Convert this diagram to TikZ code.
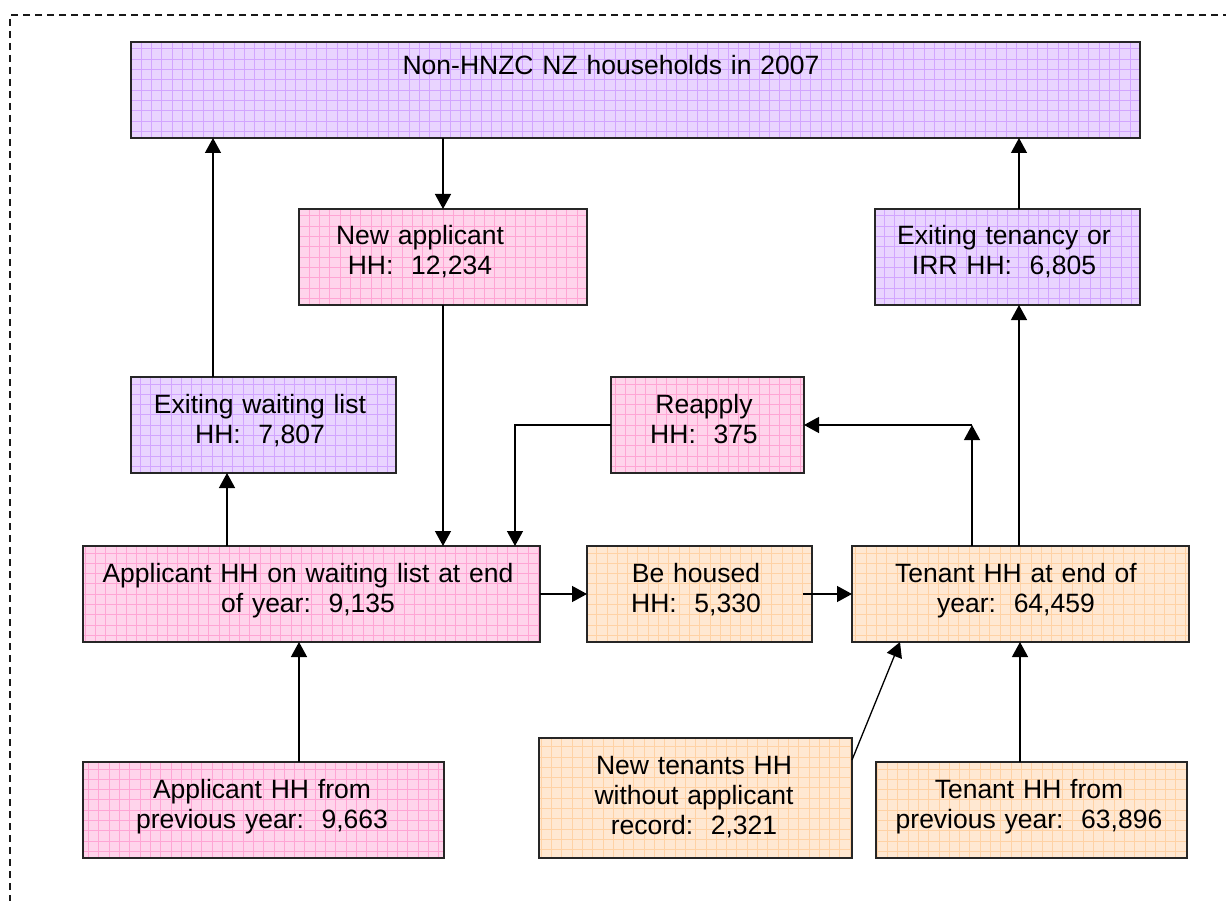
\documentclass[tikz,border=0pt]{standalone}
\usepackage{fontspec}
\setmainfont{Liberation Sans}
\usetikzlibrary{arrows.meta,calc}
\definecolor{purpF}{RGB}{233,212,255}
\definecolor{purpG}{RGB}{210,165,255}
\definecolor{pinkF}{RGB}{255,212,235}
\definecolor{pinkG}{RGB}{255,165,212}
\definecolor{orF}{RGB}{255,232,210}
\definecolor{orG}{RGB}{255,210,165}
\tikzset{
  box/.style={draw=black!85, line width=1.6pt, anchor=north west, inner sep=0pt, outer sep=0pt, rectangle},
  gridfill/.style 2 args={fill=#1, path picture={\draw[#2, line width=0.6pt, step=10.3pt] (path picture bounding box.south west) grid (path picture bounding box.north east);}},
  purpbox/.style={box, gridfill={purpF}{purpG}},
  pinkbox/.style={box, gridfill={pinkF}{pinkG}},
  orbox/.style={box, gridfill={orF}{orG}},
  txt/.style={anchor=north, inner sep=0pt, outer sep=0pt, align=center, text width=#1,
    font=\fontsize{26.5}{30}\selectfont, execute at begin node={\strut}},
  txt/.default=440pt,
  arr/.style={draw=black, line width=1.3pt, -{Triangle[length=15pt,width=16pt]}},
  frame/.style={draw=black!90, line width=1.3pt, dash pattern=on 7pt off 5pt}
}
\begin{document}
\begin{tikzpicture}[x=1pt, y=-1pt]
\useasboundingbox (0,0) rectangle (1226,901);
\draw[frame] (1230,15) -- (10,15) -- (10,905);

% boxes
\node[purpbox, minimum width=1009pt, minimum height=96pt] (top) at (131,42) {};
\node[pinkbox, minimum width=288pt, minimum height=96pt] (newapp) at (299,209) {};
\node[purpbox, minimum width=265pt, minimum height=96pt] (exitten) at (875,209) {};
\node[purpbox, minimum width=265pt, minimum height=96pt] (exitwl) at (131,377) {};
\node[pinkbox, minimum width=193pt, minimum height=96pt] (reapply) at (611,377) {};
\node[pinkbox, minimum width=457pt, minimum height=96pt] (appl) at (83,546) {};
\node[orbox, minimum width=225pt, minimum height=96pt] (behoused) at (587,546) {};
\node[orbox, minimum width=337pt, minimum height=96pt] (tenant) at (852,546) {};
\node[pinkbox, minimum width=361pt, minimum height=96pt] (appprev) at (83,762) {};
\node[orbox, minimum width=313pt, minimum height=120pt] (newten) at (539,738) {};
\node[orbox, minimum width=311pt, minimum height=96pt] (tenprev) at (876,762) {};

% texts (anchor north = first baseline - 21)
\node[txt=600pt] (top-t) at (611,54) {Non-HNZC NZ households in 2007};
\node[txt] (newapp-t) at (420,224) {New applicant\\HH:~~12,234};
\node[txt] (exitten-t) at (1004,224) {Exiting tenancy or\\IRR HH:~~6,805};
\node[txt] (exitwl-t) at (260,392) {Exiting waiting list\\HH:~~7,807};
\node[txt] (reapply-t) at (704,392) {Reapply\\HH:~~375};
\node[txt=470pt] (appl-t) at (308,561) {Applicant HH on waiting list at end\\of year:~~9,135};
\node[txt] (behoused-t) at (696,561) {Be housed\\HH:~~5,330};
\node[txt] (tenant-t) at (1016,561) {Tenant HH at end of\\year:~~64,459};
\node[txt] (appprev-t) at (262,777) {Applicant HH from\\previous year:~~9,663};
\node[txt] (newten-t) at (694,753) {New tenants HH\\without applicant\\record:~~2,321};
\node[txt] (tenprev-t) at (1029,777) {Tenant HH from\\previous year:~~63,896};

% connectors
\draw[arr] ([xshift=82pt]exitwl.north west) -- ([xshift=82pt]exitwl.north west |- top.south);
\draw[arr] ([xshift=312pt]top.south west) -- ([xshift=312pt]top.south west |- newapp.north);
\draw[arr] ([xshift=144pt]newapp.south west) -- ([xshift=144pt]newapp.south west |- appl.north);
\draw[arr] (reapply.west) -| ([xshift=432pt]appl.north west);
\draw[arr] ([xshift=144pt]appl.north west) -- ([xshift=144pt]appl.north west |- exitwl.south);
\draw[arr] ([xshift=216pt]appprev.north west) -- ([xshift=216pt]appprev.north west |- appl.south);
\draw[arr] (appl.east) -- (behoused.west);
\draw[arr] ([xshift=-9pt]behoused.east) -- (tenant.west);
\coordinate (turn) at ([xshift=120pt]tenant.north west |- reapply.east);
\draw[arr] ([xshift=120pt]tenant.north west) -- (turn);
\draw[arr] (turn) -- (reapply.east);
\draw[arr] ([xshift=167pt]tenant.north west) -- ([xshift=167pt]tenant.north west |- exitten.south);
\draw[arr] ([xshift=144pt]exitten.north west) -- ([xshift=144pt]exitten.north west |- top.south);
\draw[arr] ($(newten.north east)+(0,22)$) -- ([xshift=48pt]tenant.south west);
\draw[arr] ([xshift=144pt]tenprev.north west) -- ([xshift=144pt]tenprev.north west |- tenant.south);
\end{tikzpicture}
\end{document}
